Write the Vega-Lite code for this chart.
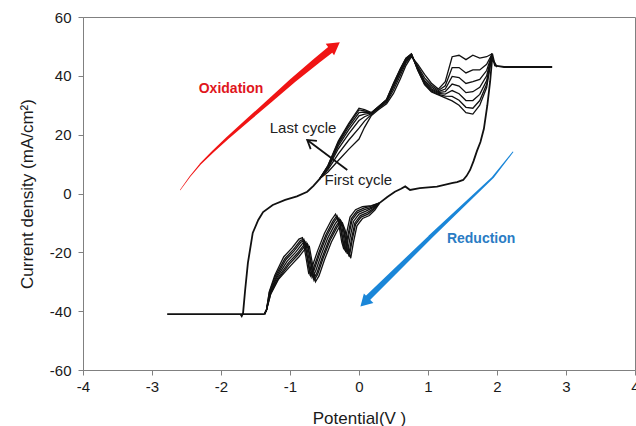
{
"$schema":"https://vega.github.io/schema/vega-lite/v6.json",
"width":552,"height":353,
"autosize":{"type":"none"},
"padding":{"left":83,"top":17,"right":1,"bottom":56},
"background":"white",
"config":{"view":{"stroke":"#808080","strokeWidth":1},"font":"Liberation Sans",
"axis":{"grid":false,"domainColor":"#808080","tickColor":"#808080","tickSize":5,"labelFontSize":15,"labelColor":"#1a1a1a","titleFontSize":17,"titleFontWeight":"normal","titleColor":"#1a1a1a","labelFont":"Liberation Sans","titleFont":"Liberation Sans"}},
"resolve":{"scale":{"size":"independent"}},
"datasets":{
"com":[
{"s":"b","x":-1.37,"y":-41},{"s":"b","x":-2.78,"y":-41},{"s":"b","x":-1.72,"y":-41},{"s":"b","x":-1.7,"y":-41.7},{"s":"b","x":-1.68,"y":-40.6},{"s":"b","x":-1.65,"y":-32.8},{"s":"b","x":-1.61,"y":-23.6},{"s":"b","x":-1.54,"y":-13.4},{"s":"b","x":-1.46,"y":-9},{"s":"b","x":-1.39,"y":-6.3},{"s":"b","x":-1.25,"y":-3.9},{"s":"b","x":-1.07,"y":-2.2},{"s":"b","x":-0.9,"y":-1},{"s":"b","x":-0.75,"y":0.6},{"s":"b","x":-0.66,"y":2.6},{"s":"b","x":-0.57,"y":5},
{"s":"t","x":1.93,"y":47.5},{"s":"t","x":1.97,"y":43.5},{"s":"t","x":2.1,"y":43},{"s":"t","x":2.8,"y":43},
{"s":"r","x":2.0,"y":43},{"s":"r","x":1.95,"y":45},{"s":"r","x":1.93,"y":46},{"s":"r","x":1.9,"y":38},{"s":"r","x":1.86,"y":30},{"s":"r","x":1.81,"y":22},{"s":"r","x":1.76,"y":17.5},{"s":"r","x":1.71,"y":14.5},{"s":"r","x":1.66,"y":11},{"s":"r","x":1.61,"y":8},{"s":"r","x":1.56,"y":6},{"s":"r","x":1.51,"y":4.6},{"s":"r","x":1.42,"y":3.9},{"s":"r","x":1.36,"y":3.6},{"s":"r","x":1.13,"y":2.3},{"s":"r","x":0.88,"y":1.8},{"s":"r","x":0.74,"y":1.2},{"s":"r","x":0.67,"y":2.4},{"s":"r","x":0.61,"y":1.6},{"s":"r","x":0.52,"y":0.6},{"s":"r","x":0.41,"y":-1.2},{"s":"r","x":0.3,"y":-3.2}
],
"cyc":[
{"s":"u1","x":-0.57,"y":5},{"s":"u1","x":-0.45,"y":7.3},{"s":"u1","x":-0.3,"y":11.2},{"s":"u1","x":-0.15,"y":15},{"s":"u1","x":0,"y":18.5},{"s":"u1","x":0.08,"y":22.5},{"s":"u1","x":0.18,"y":26.5},{"s":"u1","x":0.28,"y":28.5},{"s":"u1","x":0.4,"y":30.5},{"s":"u1","x":0.5,"y":34},{"s":"u1","x":0.6,"y":39},{"s":"u1","x":0.68,"y":43.5},{"s":"u1","x":0.76,"y":46.5},{"s":"u1","x":0.85,"y":44},{"s":"u1","x":0.95,"y":40.5},{"s":"u1","x":1.05,"y":37.5},{"s":"u1","x":1.15,"y":35.5},{"s":"u1","x":1.25,"y":38},{"s":"u1","x":1.35,"y":46.5},{"s":"u1","x":1.45,"y":47},{"s":"u1","x":1.55,"y":45.5},{"s":"u1","x":1.65,"y":47},{"s":"u1","x":1.75,"y":46},{"s":"u1","x":1.85,"y":46.5},{"s":"u1","x":1.93,"y":47.5},
{"s":"u2","x":-0.57,"y":5},{"s":"u2","x":-0.45,"y":8.1},{"s":"u2","x":-0.3,"y":13.5},{"s":"u2","x":-0.15,"y":18.1},{"s":"u2","x":0,"y":22.2},{"s":"u2","x":0.08,"y":24.6},{"s":"u2","x":0.18,"y":26.9},{"s":"u2","x":0.28,"y":28.9},{"s":"u2","x":0.4,"y":31},{"s":"u2","x":0.5,"y":35.2},{"s":"u2","x":0.6,"y":40.2},{"s":"u2","x":0.68,"y":44.4},{"s":"u2","x":0.76,"y":46.9},{"s":"u2","x":0.85,"y":43.3},{"s":"u2","x":0.95,"y":39.3},{"s":"u2","x":1.05,"y":36.8},{"s":"u2","x":1.15,"y":35},{"s":"u2","x":1.25,"y":36.6},{"s":"u2","x":1.35,"y":42.8},{"s":"u2","x":1.45,"y":42.8},{"s":"u2","x":1.55,"y":41},{"s":"u2","x":1.65,"y":42},{"s":"u2","x":1.75,"y":42},{"s":"u2","x":1.85,"y":43.9},{"s":"u2","x":1.93,"y":47.5},
{"s":"u3","x":-0.57,"y":5},{"s":"u3","x":-0.45,"y":8.6},{"s":"u3","x":-0.3,"y":15.2},{"s":"u3","x":-0.15,"y":20.3},{"s":"u3","x":0,"y":24.8},{"s":"u3","x":0.08,"y":26.1},{"s":"u3","x":0.18,"y":27.1},{"s":"u3","x":0.28,"y":29.1},{"s":"u3","x":0.4,"y":31.4},{"s":"u3","x":0.5,"y":36.1},{"s":"u3","x":0.6,"y":41.1},{"s":"u3","x":0.68,"y":45},{"s":"u3","x":0.76,"y":47.1},{"s":"u3","x":0.85,"y":42.8},{"s":"u3","x":0.95,"y":38.4},{"s":"u3","x":1.05,"y":36.2},{"s":"u3","x":1.15,"y":34.6},{"s":"u3","x":1.25,"y":35.5},{"s":"u3","x":1.35,"y":39.8},{"s":"u3","x":1.45,"y":39.4},{"s":"u3","x":1.55,"y":37.4},{"s":"u3","x":1.65,"y":38},{"s":"u3","x":1.75,"y":38.8},{"s":"u3","x":1.85,"y":41.8},{"s":"u3","x":1.93,"y":47.5},
{"s":"u4","x":-0.57,"y":5},{"s":"u4","x":-0.45,"y":8.9},{"s":"u4","x":-0.3,"y":16.2},{"s":"u4","x":-0.15,"y":21.6},{"s":"u4","x":0,"y":26.4},{"s":"u4","x":0.08,"y":27},{"s":"u4","x":0.18,"y":27.3},{"s":"u4","x":0.28,"y":29.3},{"s":"u4","x":0.4,"y":31.6},{"s":"u4","x":0.5,"y":36.6},{"s":"u4","x":0.6,"y":41.6},{"s":"u4","x":0.68,"y":45.4},{"s":"u4","x":0.76,"y":47.3},{"s":"u4","x":0.85,"y":42.5},{"s":"u4","x":0.95,"y":37.9},{"s":"u4","x":1.05,"y":35.6},{"s":"u4","x":1.15,"y":34.3},{"s":"u4","x":1.25,"y":34.6},{"s":"u4","x":1.35,"y":37.2},{"s":"u4","x":1.45,"y":36.5},{"s":"u4","x":1.55,"y":34.3},{"s":"u4","x":1.65,"y":34.6},{"s":"u4","x":1.75,"y":36.1},{"s":"u4","x":1.85,"y":40},{"s":"u4","x":1.93,"y":47.5},
{"s":"u5","x":-0.57,"y":5},{"s":"u5","x":-0.45,"y":9.2},{"s":"u5","x":-0.3,"y":16.9},{"s":"u5","x":-0.15,"y":22.6},{"s":"u5","x":0,"y":27.5},{"s":"u5","x":0.08,"y":27.7},{"s":"u5","x":0.18,"y":27.4},{"s":"u5","x":0.28,"y":29.4},{"s":"u5","x":0.4,"y":31.8},{"s":"u5","x":0.5,"y":37},{"s":"u5","x":0.6,"y":42},{"s":"u5","x":0.68,"y":45.7},{"s":"u5","x":0.76,"y":47.4},{"s":"u5","x":0.85,"y":42.3},{"s":"u5","x":0.95,"y":37.5},{"s":"u5","x":1.05,"y":35.2},{"s":"u5","x":1.15,"y":34},{"s":"u5","x":1.25,"y":33.8},{"s":"u5","x":1.35,"y":35},{"s":"u5","x":1.45,"y":33.9},{"s":"u5","x":1.55,"y":31.6},{"s":"u5","x":1.65,"y":31.6},{"s":"u5","x":1.75,"y":33.7},{"s":"u5","x":1.85,"y":38.4},{"s":"u5","x":1.93,"y":47.5},
{"s":"u6","x":-0.57,"y":5},{"s":"u6","x":-0.45,"y":9.4},{"s":"u6","x":-0.3,"y":17.4},{"s":"u6","x":-0.15,"y":23.3},{"s":"u6","x":0,"y":28.4},{"s":"u6","x":0.08,"y":28.1},{"s":"u6","x":0.18,"y":27.4},{"s":"u6","x":0.28,"y":29.4},{"s":"u6","x":0.4,"y":31.9},{"s":"u6","x":0.5,"y":37.3},{"s":"u6","x":0.6,"y":42.3},{"s":"u6","x":0.68,"y":45.9},{"s":"u6","x":0.76,"y":47.4},{"s":"u6","x":0.85,"y":42.1},{"s":"u6","x":0.95,"y":37.2},{"s":"u6","x":1.05,"y":34.8},{"s":"u6","x":1.15,"y":33.7},{"s":"u6","x":1.25,"y":33.1},{"s":"u6","x":1.35,"y":33},{"s":"u6","x":1.45,"y":31.7},{"s":"u6","x":1.55,"y":29.3},{"s":"u6","x":1.65,"y":29},{"s":"u6","x":1.75,"y":31.6},{"s":"u6","x":1.85,"y":37.1},{"s":"u6","x":1.93,"y":47.5},
{"s":"u7","x":-0.57,"y":5},{"s":"u7","x":-0.45,"y":9.5},{"s":"u7","x":-0.3,"y":17.8},{"s":"u7","x":-0.15,"y":23.8},{"s":"u7","x":0,"y":29},{"s":"u7","x":0.08,"y":28.5},{"s":"u7","x":0.18,"y":27.5},{"s":"u7","x":0.28,"y":29.5},{"s":"u7","x":0.4,"y":32},{"s":"u7","x":0.5,"y":37.5},{"s":"u7","x":0.6,"y":42.5},{"s":"u7","x":0.68,"y":46},{"s":"u7","x":0.76,"y":47.5},{"s":"u7","x":0.85,"y":42},{"s":"u7","x":0.95,"y":37},{"s":"u7","x":1.05,"y":34.5},{"s":"u7","x":1.15,"y":33.5},{"s":"u7","x":1.25,"y":32.5},{"s":"u7","x":1.35,"y":31.5},{"s":"u7","x":1.45,"y":30},{"s":"u7","x":1.55,"y":27.5},{"s":"u7","x":1.65,"y":27},{"s":"u7","x":1.75,"y":30},{"s":"u7","x":1.85,"y":36},{"s":"u7","x":1.93,"y":47.5},
{"s":"d1","x":0.3,"y":-3.2},{"s":"d1","x":0.23,"y":-5.6},{"s":"d1","x":0.15,"y":-7.5},{"s":"d1","x":0.05,"y":-8.5},{"s":"d1","x":-0.03,"y":-11},{"s":"d1","x":-0.08,"y":-16.5},{"s":"d1","x":-0.12,"y":-22},{"s":"d1","x":-0.15,"y":-19.5},{"s":"d1","x":-0.2,"y":-12.5},{"s":"d1","x":-0.24,"y":-10},{"s":"d1","x":-0.3,"y":-12},{"s":"d1","x":-0.4,"y":-16.5},{"s":"d1","x":-0.5,"y":-22.5},{"s":"d1","x":-0.58,"y":-28},{"s":"d1","x":-0.63,"y":-30},{"s":"d1","x":-0.67,"y":-24.5},{"s":"d1","x":-0.72,"y":-18},{"s":"d1","x":-0.77,"y":-18.5},{"s":"d1","x":-0.87,"y":-21.5},{"s":"d1","x":-0.99,"y":-24.5},{"s":"d1","x":-1.17,"y":-29.3},{"s":"d1","x":-1.28,"y":-34.2},{"s":"d1","x":-1.34,"y":-39.5},{"s":"d1","x":-1.37,"y":-41},
{"s":"d2","x":0.3,"y":-3.2},{"s":"d2","x":0.22,"y":-5.3},{"s":"d2","x":0.13,"y":-7},{"s":"d2","x":0.03,"y":-8},{"s":"d2","x":-0.05,"y":-10.5},{"s":"d2","x":-0.1,"y":-16},{"s":"d2","x":-0.14,"y":-21.5},{"s":"d2","x":-0.17,"y":-19},{"s":"d2","x":-0.22,"y":-12},{"s":"d2","x":-0.26,"y":-9.5},{"s":"d2","x":-0.32,"y":-11.5},{"s":"d2","x":-0.42,"y":-16},{"s":"d2","x":-0.52,"y":-22},{"s":"d2","x":-0.6,"y":-27.5},{"s":"d2","x":-0.65,"y":-29.5},{"s":"d2","x":-0.69,"y":-24},{"s":"d2","x":-0.74,"y":-17.5},{"s":"d2","x":-0.79,"y":-18},{"s":"d2","x":-0.89,"y":-21},{"s":"d2","x":-1.01,"y":-24},{"s":"d2","x":-1.17,"y":-29},{"s":"d2","x":-1.28,"y":-34.1},{"s":"d2","x":-1.34,"y":-39.5},{"s":"d2","x":-1.37,"y":-41},
{"s":"d3","x":0.3,"y":-3.2},{"s":"d3","x":0.21,"y":-5.1},{"s":"d3","x":0.12,"y":-6.5},{"s":"d3","x":0.02,"y":-7.5},{"s":"d3","x":-0.06,"y":-10},{"s":"d3","x":-0.11,"y":-15.5},{"s":"d3","x":-0.15,"y":-21},{"s":"d3","x":-0.18,"y":-18.5},{"s":"d3","x":-0.23,"y":-11.5},{"s":"d3","x":-0.27,"y":-9},{"s":"d3","x":-0.33,"y":-11},{"s":"d3","x":-0.43,"y":-15.5},{"s":"d3","x":-0.53,"y":-21.5},{"s":"d3","x":-0.61,"y":-27},{"s":"d3","x":-0.66,"y":-29},{"s":"d3","x":-0.7,"y":-23.5},{"s":"d3","x":-0.75,"y":-17},{"s":"d3","x":-0.8,"y":-17.5},{"s":"d3","x":-0.9,"y":-20.5},{"s":"d3","x":-1.02,"y":-23.5},{"s":"d3","x":-1.18,"y":-28.8},{"s":"d3","x":-1.29,"y":-33.9},{"s":"d3","x":-1.34,"y":-39.5},{"s":"d3","x":-1.37,"y":-41},
{"s":"d4","x":0.3,"y":-3.2},{"s":"d4","x":0.2,"y":-4.8},{"s":"d4","x":0.1,"y":-6},{"s":"d4","x":0,"y":-7},{"s":"d4","x":-0.08,"y":-9.5},{"s":"d4","x":-0.13,"y":-15},{"s":"d4","x":-0.17,"y":-20.5},{"s":"d4","x":-0.2,"y":-18},{"s":"d4","x":-0.25,"y":-11},{"s":"d4","x":-0.29,"y":-8.5},{"s":"d4","x":-0.35,"y":-10.5},{"s":"d4","x":-0.45,"y":-15},{"s":"d4","x":-0.55,"y":-21},{"s":"d4","x":-0.63,"y":-26.5},{"s":"d4","x":-0.68,"y":-28.5},{"s":"d4","x":-0.72,"y":-23},{"s":"d4","x":-0.77,"y":-16.5},{"s":"d4","x":-0.82,"y":-17},{"s":"d4","x":-0.92,"y":-20},{"s":"d4","x":-1.04,"y":-23},{"s":"d4","x":-1.19,"y":-28.5},{"s":"d4","x":-1.29,"y":-33.8},{"s":"d4","x":-1.34,"y":-39.5},{"s":"d4","x":-1.37,"y":-41},
{"s":"d5","x":0.3,"y":-3.2},{"s":"d5","x":0.19,"y":-4.6},{"s":"d5","x":0.08,"y":-5.5},{"s":"d5","x":-0.02,"y":-6.5},{"s":"d5","x":-0.1,"y":-9},{"s":"d5","x":-0.15,"y":-14.5},{"s":"d5","x":-0.19,"y":-20},{"s":"d5","x":-0.22,"y":-17.5},{"s":"d5","x":-0.27,"y":-10.5},{"s":"d5","x":-0.31,"y":-8},{"s":"d5","x":-0.37,"y":-10},{"s":"d5","x":-0.47,"y":-14.5},{"s":"d5","x":-0.57,"y":-20.5},{"s":"d5","x":-0.65,"y":-26},{"s":"d5","x":-0.7,"y":-28},{"s":"d5","x":-0.74,"y":-22.5},{"s":"d5","x":-0.79,"y":-16},{"s":"d5","x":-0.84,"y":-16.5},{"s":"d5","x":-0.94,"y":-19.5},{"s":"d5","x":-1.06,"y":-22.5},{"s":"d5","x":-1.2,"y":-28.3},{"s":"d5","x":-1.29,"y":-33.7},{"s":"d5","x":-1.34,"y":-39.5},{"s":"d5","x":-1.37,"y":-41},
{"s":"d6","x":0.3,"y":-3.2},{"s":"d6","x":0.18,"y":-4.3},{"s":"d6","x":0.07,"y":-5},{"s":"d6","x":-0.03,"y":-6},{"s":"d6","x":-0.11,"y":-8.5},{"s":"d6","x":-0.16,"y":-14},{"s":"d6","x":-0.2,"y":-19.5},{"s":"d6","x":-0.23,"y":-17},{"s":"d6","x":-0.28,"y":-10},{"s":"d6","x":-0.32,"y":-7.5},{"s":"d6","x":-0.38,"y":-9.5},{"s":"d6","x":-0.48,"y":-14},{"s":"d6","x":-0.58,"y":-20},{"s":"d6","x":-0.66,"y":-25.5},{"s":"d6","x":-0.71,"y":-27.5},{"s":"d6","x":-0.75,"y":-22},{"s":"d6","x":-0.8,"y":-15.5},{"s":"d6","x":-0.85,"y":-16},{"s":"d6","x":-0.95,"y":-19},{"s":"d6","x":-1.07,"y":-22},{"s":"d6","x":-1.21,"y":-28},{"s":"d6","x":-1.3,"y":-33.6},{"s":"d6","x":-1.34,"y":-39.5},{"s":"d6","x":-1.37,"y":-41},
{"s":"d7","x":0.3,"y":-3.2},{"s":"d7","x":0.18,"y":-4.1},{"s":"d7","x":0.05,"y":-4.5},{"s":"d7","x":-0.05,"y":-5.5},{"s":"d7","x":-0.13,"y":-8},{"s":"d7","x":-0.18,"y":-13.5},{"s":"d7","x":-0.22,"y":-19},{"s":"d7","x":-0.25,"y":-16.5},{"s":"d7","x":-0.3,"y":-9.5},{"s":"d7","x":-0.34,"y":-7},{"s":"d7","x":-0.4,"y":-9},{"s":"d7","x":-0.5,"y":-13.5},{"s":"d7","x":-0.6,"y":-19.5},{"s":"d7","x":-0.68,"y":-25},{"s":"d7","x":-0.73,"y":-27},{"s":"d7","x":-0.77,"y":-21.5},{"s":"d7","x":-0.82,"y":-15},{"s":"d7","x":-0.87,"y":-15.5},{"s":"d7","x":-0.97,"y":-18.5},{"s":"d7","x":-1.09,"y":-21.5},{"s":"d7","x":-1.22,"y":-27.8},{"s":"d7","x":-1.3,"y":-33.4},{"s":"d7","x":-1.34,"y":-39.5},{"s":"d7","x":-1.37,"y":-41}
],
"arw":[
{"s":"shaft","x":-0.17,"y":8.0},{"s":"shaft","x":-0.75,"y":18.2},
{"s":"head","x":-0.7,"y":15.1},{"s":"head","x":-0.75,"y":18.2},{"s":"head","x":-0.61,"y":17.9}
],
"ox":[
{"x":-2.59,"y":1.2},{"x":-2.45,"y":5.8},{"x":-2.3,"y":10.0},{"x":-2.12,"y":14.2},{"x":-1.91,"y":18.8},{"x":-1.58,"y":25.6},{"x":-1.29,"y":31.6},{"x":-0.96,"y":38.4},{"x":-0.61,"y":45.2},{"x":-0.42,"y":48.8}
],
"red":[
{"x":2.23,"y":14.1},{"x":1.94,"y":5.5},{"x":1.03,"y":-14.8},{"x":0.5,"y":-27},{"x":0.13,"y":-35.5}
]
},
"encoding":{
"x":{"field":"x","type":"quantitative","scale":{"domain":[-4,4],"nice":false,"zero":false},"axis":{"values":[-4,-3,-2,-1,0,1,2,3,4],"labelExpr":"''+datum.value","title":"Potential(V )","labelPadding":4,"titlePadding":16,"labelFlush":false}},
"y":{"field":"y","type":"quantitative","scale":{"domain":[-60,60],"nice":false,"zero":false},"axis":{"values":[-60,-40,-20,0,20,40,60],"labelExpr":"''+datum.value","title":"Current density (mA/cm²)","labelPadding":7,"titlePadding":13}}
},
"layer":[
{"data":{"name":"cyc"},"mark":{"type":"line","color":"#111111","strokeWidth":1.3},"encoding":{"detail":{"field":"s"},"order":{"value":null}}},
{"data":{"name":"com"},"mark":{"type":"line","color":"#111111","strokeWidth":1.8},"encoding":{"detail":{"field":"s"},"order":{"value":null}}},
{"data":{"name":"arw"},"mark":{"type":"line","color":"#111111","strokeWidth":1.8},"encoding":{"detail":{"field":"s"},"order":{"value":null}}},
{"data":{"name":"ox"},"mark":{"type":"trail","color":"#f01414"},"encoding":{"size":{"field":"x","type":"quantitative","scale":{"domain":[-2.6,-0.42],"range":[0.5,7]},"legend":null},"order":{"value":null}}},
{"data":{"values":[{"x":-0.35,"y":50.2}]},"mark":{"type":"point","shape":"triangle-right","filled":true,"opacity":1,"size":200,"angle":-36,"color":"#f01414"}},
{"data":{"name":"red"},"mark":{"type":"trail","color":"#1a86d8"},"encoding":{"size":{"field":"y","type":"quantitative","scale":{"domain":[14.1,-35.5],"range":[1,6]},"legend":null},"order":{"value":null}}},
{"data":{"values":[{"x":0.08,"y":-37.0}]},"mark":{"type":"point","shape":"triangle-right","filled":true,"opacity":1,"size":180,"angle":135,"color":"#1a86d8"}},
{"data":{"values":[{"t":"Oxidation","x":-1.855,"y":35.5}]},"mark":{"type":"text","fontSize":14,"fontWeight":"bold","color":"#e0161c","font":"Liberation Sans"},"encoding":{"text":{"field":"t"}}},
{"data":{"values":[{"t":"Reduction","x":1.77,"y":-15.5}]},"mark":{"type":"text","fontSize":14,"fontWeight":"bold","color":"#2a7cc4","font":"Liberation Sans"},"encoding":{"text":{"field":"t"}}},
{"data":{"values":[{"t":"Last cycle","x":-0.81,"y":22.3},{"t":"First cycle","x":-0.01,"y":4.6}]},"mark":{"type":"text","fontSize":15,"color":"#222222","font":"Liberation Sans"},"encoding":{"text":{"field":"t"}}}
]
}
